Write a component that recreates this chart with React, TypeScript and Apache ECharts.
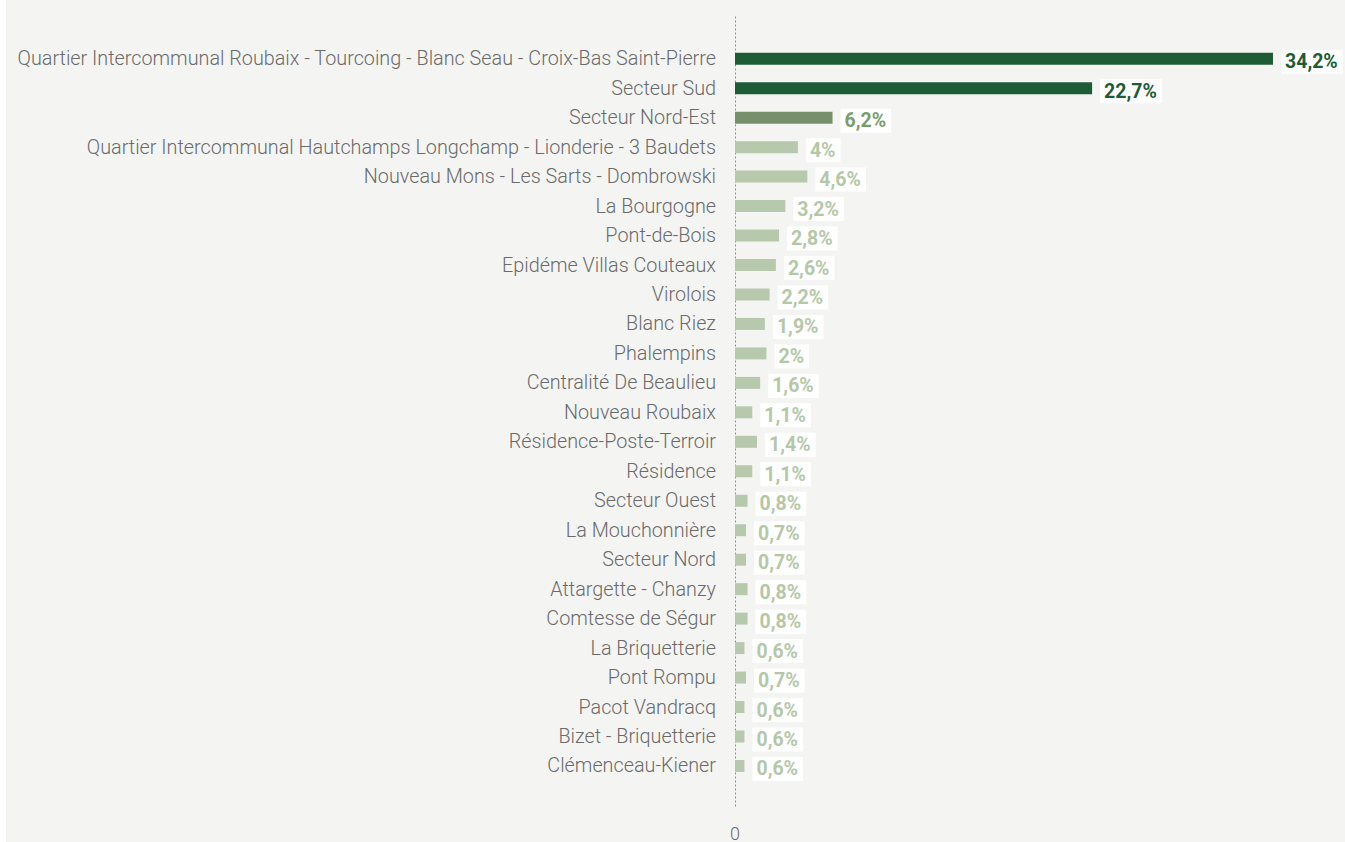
import React, { useEffect, useRef } from "react";
import * as echarts from "echarts";

const categories = [
  "Quartier Intercommunal Roubaix - Tourcoing - Blanc Seau - Croix-Bas Saint-Pierre",
  "Secteur Sud",
  "Secteur Nord-Est",
  "Quartier Intercommunal Hautchamps Longchamp - Lionderie - 3 Baudets",
  "Nouveau Mons - Les Sarts - Dombrowski",
  "La Bourgogne",
  "Pont-de-Bois",
  "Epidéme Villas Couteaux",
  "Virolois",
  "Blanc Riez",
  "Phalempins",
  "Centralité De Beaulieu",
  "Nouveau Roubaix",
  "Résidence-Poste-Terroir",
  "Résidence",
  "Secteur Ouest",
  "La Mouchonnière",
  "Secteur Nord",
  "Attargette - Chanzy",
  "Comtesse de Ségur",
  "La Briquetterie",
  "Pont Rompu",
  "Pacot Vandracq",
  "Bizet - Briquetterie",
  "Clémenceau-Kiener",
];

const values = [
  34.2, 22.7, 6.2, 4, 4.6, 3.2, 2.8, 2.6, 2.2, 1.9, 2, 1.6, 1.1, 1.4, 1.1, 0.8,
  0.7, 0.7, 0.8, 0.8, 0.6, 0.7, 0.6, 0.6, 0.6,
];

const xTickLabels = ["0"];

const BG = "#f4f5f3";
const DARK = "#1e5c35";
const MEDIUM = "#76906c";
const LIGHT = "#b7c9ac";
const MEDIUM_LABEL = "#7a9d6c";
const LIGHT_LABEL = "#b4c8a8";

function tier(v: number): number {
  if (v > 20) return 0;
  if (v > 5) return 1;
  return 2;
}

export default function App() {
  const ref = useRef<HTMLDivElement>(null);

  useEffect(() => {
    if (!ref.current) return;
    const chart = echarts.init(ref.current, null, { renderer: "svg" });
    const maxV = Math.max(...values);
    const data = values.map((v) => {
      const t = tier(v);
      return {
        value: v,
        itemStyle: { color: [DARK, MEDIUM, LIGHT][t] },
        label: { color: [DARK, MEDIUM_LABEL, LIGHT_LABEL][t] },
      };
    });
    chart.setOption({
      animation: false,
      backgroundColor: BG,
      grid: [
        { left: 729, top: 44, width: 538, height: 736.7, containLabel: false },
        { left: 729, top: 15, width: 538, height: 791, containLabel: false },
      ],
      xAxis: [
        {
          type: "value",
          gridIndex: 0,
          min: 0,
          max: maxV,
          show: false,
        },
        {
          type: "value",
          gridIndex: 1,
          min: 0,
          max: maxV,
          interval: maxV,
          axisLine: { show: false },
          axisTick: { show: false },
          splitLine: { show: false },
          axisLabel: {
            margin: 18,
            color: "#6a6a6a",
            fontFamily: "Roboto",
            fontWeight: 300,
            fontSize: 18,
            showMaxLabel: false,
            formatter: (v: number) => (v === 0 ? xTickLabels[0] : ""),
          },
        },
      ],
      yAxis: [
        {
          type: "category",
          gridIndex: 0,
          inverse: true,
          data: categories,
          axisLine: { show: false },
          axisTick: { show: false },
          splitLine: { show: false },
          axisLabel: {
            margin: 19,
            color: "#6a6a6a",
            fontFamily: "Roboto",
            fontWeight: 300,
            fontSize: 19.8,
          },
        },
        {
          type: "value",
          gridIndex: 1,
          min: 0,
          max: 1,
          axisLine: {
            show: true,
            lineStyle: { color: "#888", type: [1, 3], width: 1 },
          },
          axisTick: { show: false },
          axisLabel: { show: false },
          splitLine: { show: false },
        },
      ],
      series: [
        {
          type: "bar",
          xAxisIndex: 0,
          yAxisIndex: 0,
          data,
          barWidth: 12,
          z: 3,
          label: {
            show: true,
            position: "right",
            distance: 8,
            offset: [0, 3],
            fontFamily: "Roboto",
            fontWeight: "bold",
            fontSize: 19.5,
            lineHeight: 18,
            backgroundColor: "#ffffff",
            padding: [6, 5, 0, 4],
            formatter: (p: any) => String(p.value).replace(".", ",") + "%",
          },
        },
      ],
    });
    return () => chart.dispose();
  }, []);

  return (
    <div
      style={{
        position: "fixed",
        left: 0,
        top: 0,
        width: 1345,
        height: 842,
        background: "#ffffff",
      }}
    >
      <div
        ref={ref}
        style={{ position: "absolute", left: 6, top: 0, width: 1339, height: 842 }}
      />
    </div>
  );
}
